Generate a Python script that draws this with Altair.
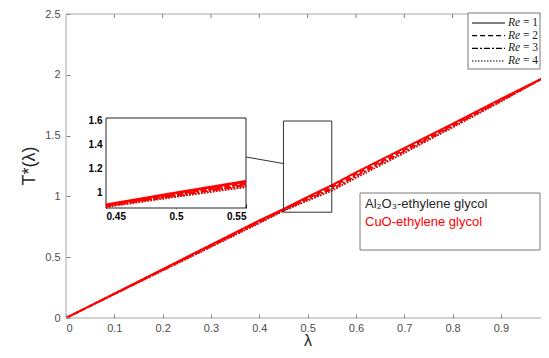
import altair as alt
import pandas as pd

# ---- data ----
lam = [0, 0.1, 0.2, 0.3, 0.4, 0.45, 0.5, 0.55, 0.6, 0.7, 0.8, 0.9, 1.0]
al_re1 = [0, 0.200, 0.400, 0.600, 0.800, 0.893, 0.993, 1.088, 1.195, 1.395, 1.595, 1.800, 2.000]
al_re2 = [0, 0.198, 0.396, 0.594, 0.792, 0.888, 0.983, 1.073, 1.180, 1.380, 1.585, 1.792, 2.000]
al_re3 = [0, 0.196, 0.392, 0.588, 0.785, 0.883, 0.973, 1.058, 1.165, 1.368, 1.575, 1.785, 2.000]
al_re4 = [0, 0.194, 0.388, 0.582, 0.778, 0.878, 0.963, 1.043, 1.150, 1.355, 1.565, 1.778, 2.000]
cu_re1 = [0, 0.201, 0.402, 0.603, 0.803, 0.897, 0.997, 1.093, 1.198, 1.398, 1.598, 1.802, 2.000]
cu_re2 = [0, 0.199, 0.398, 0.597, 0.795, 0.892, 0.987, 1.078, 1.183, 1.383, 1.588, 1.794, 2.000]
cu_re3 = [0, 0.197, 0.394, 0.591, 0.788, 0.887, 0.977, 1.063, 1.168, 1.371, 1.578, 1.787, 2.000]
cu_re4 = [0, 0.195, 0.390, 0.585, 0.781, 0.882, 0.967, 1.048, 1.153, 1.358, 1.568, 1.780, 2.000]

re_labels = ["Re = 1", "Re = 2", "Re = 3", "Re = 4"]
fluids = ["Al\u2082O\u2083-ethylene glycol", "CuO-ethylene glycol"]
x_ticks = [0, 0.1, 0.2, 0.3, 0.4, 0.5, 0.6, 0.7, 0.8, 0.9]
y_ticks = [0, 0.5, 1, 1.5, 2, 2.5]
inset_x_ticks = [0.45, 0.5, 0.55]
inset_y_ticks = [1, 1.2, 1.4, 1.6]
x_domain = [0, 0.983]          # right part of the axes is cut off in the reference
y_domain = [0, 2.5]
zoom_x = [0.45, 0.55]
zoom_y = [0.87, 1.62]
connector_y = [1.27]

rows = []
for fluid, series in [(fluids[0], [al_re1, al_re2, al_re3, al_re4]),
                      (fluids[1], [cu_re1, cu_re2, cu_re3, cu_re4])]:
    for re, vals in zip(re_labels, series):
        for l, t in zip(lam, vals):
            rows.append({"lam": l, "T": t, "Re": re, "fluid": fluid})
df = pd.DataFrame(rows)
df_al = df[df.fluid == fluids[0]]
df_cu = df[df.fluid == fluids[1]]
df_al_in = df_al[(df_al.lam >= 0.45) & (df_al.lam <= 0.55)]
df_cu_in = df_cu[(df_cu.lam >= 0.45) & (df_cu.lam <= 0.55)]
zoom_df = pd.DataFrame({"x0": [zoom_x[0]], "x1": [zoom_x[1]], "y0": [zoom_y[0]],
                        "y1": [zoom_y[1]], "yc": connector_y})
legend_df = pd.DataFrame({"Re": re_labels, "eq": [r[3:] for r in re_labels]})

W, H = 475, 304

# ---- scales / axes ----
dash_scale = alt.Scale(domain=re_labels, range=[[1, 0], [5, 3], [6, 2, 2, 2], [1.5, 1.5]])
color_scale = alt.Scale(domain=fluids, range=["#000000", "#ff0000"])

mx_scale = alt.Scale(domain=x_domain, nice=False, zero=False)
my_scale = alt.Scale(domain=y_domain, nice=False, zero=False)
mx_axis = alt.Axis(values=x_ticks, format="~g", title=None, offset=-4, tickSize=4,
                   labelPadding=4, domain=False, grid=False)
my_axis = alt.Axis(values=y_ticks, format="~g", title=None, offset=-4, tickSize=4,
                   labelPadding=6, domain=False, grid=False)

ix_scale = alt.Scale(domain=zoom_x, range=[40, 180], nice=False, zero=False)
iy_scale = alt.Scale(domain=zoom_y, range=[194, 104], nice=False, zero=False)
ix_axis = alt.Axis(values=inset_x_ticks, format="~g", title=None, orient="bottom",
                   offset=-114, tickSize=4, labelPadding=3, domain=False, grid=False,
                   labelFontWeight="bold", labelColor="black", labelFontSize=10,
                   tickColor="black")
iy_axis = alt.Axis(values=inset_y_ticks, format="~g", title=None, orient="left",
                   offset=-44, tickSize=4, labelPadding=4, domain=False, grid=False,
                   labelFontWeight="bold", labelColor="black", labelFontSize=10,
                   tickColor="black")


def lines(data, width, xs, ys, xa, ya):
    return alt.Chart(data).mark_line(strokeWidth=width, clip=True).encode(
        x=alt.X("lam:Q", scale=xs, axis=xa),
        y=alt.Y("T:Q", scale=ys, axis=ya),
        strokeDash=alt.StrokeDash("Re:N", scale=dash_scale, legend=None),
        color=alt.Color("fluid:N", scale=color_scale, legend=None),
    )


one = pd.DataFrame({"a": [0]})
frame_color = "#a6a6a6"

main_black = lines(df_al, 1, mx_scale, my_scale, mx_axis, my_axis)
main_red = lines(df_cu, 1.8, mx_scale, my_scale, mx_axis, my_axis)

frame_top = alt.Chart(one).mark_rule(color=frame_color).encode(
    x=alt.value(0), x2=alt.value(W), y=alt.value(0))
frame_bottom = alt.Chart(one).mark_rule(color=frame_color).encode(
    x=alt.value(0), x2=alt.value(W), y=alt.value(H))
frame_left = alt.Chart(one).mark_rule(color=frame_color).encode(
    x=alt.value(0), y=alt.value(0), y2=alt.value(H))

top_ticks = alt.Chart(pd.DataFrame({"t": x_ticks[1:]})).mark_rule(color="#808080").encode(
    x=alt.X("t:Q", scale=mx_scale, axis=mx_axis), y=alt.value(0), y2=alt.value(4))

zoom_rect = alt.Chart(zoom_df).mark_rect(fillOpacity=0, stroke="#333333", strokeWidth=1).encode(
    x=alt.X("x0:Q", scale=mx_scale, axis=mx_axis), x2="x1:Q",
    y=alt.Y("y0:Q", scale=my_scale, axis=my_axis), y2="y1:Q")

connector = alt.Chart(zoom_df).mark_rule(color="#333333", strokeWidth=1).encode(
    x=alt.X("x0:Q", scale=mx_scale, axis=mx_axis), y=alt.Y("yc:Q", scale=my_scale, axis=my_axis),
    x2=alt.value(180), y2=alt.value(143))

box = alt.Chart(one).mark_rect(fill="white", stroke="#7a7a7a", strokeWidth=1).encode(
    x=alt.value(294), x2=alt.value(474), y=alt.value(179), y2=alt.value(236))
txt1 = alt.Chart(one).mark_text(text=fluids[0], align="left", baseline="middle",
                                font="Liberation Sans", fontSize=13, color="#262626").encode(
    x=alt.value(299), y=alt.value(190))
txt2 = alt.Chart(one).mark_text(text=fluids[1], align="left", baseline="middle",
                                font="Liberation Sans", fontSize=13, color="#ff0000").encode(
    x=alt.value(299), y=alt.value(208))

ytitle = alt.Chart(one).mark_text(text="T*(\u03bb)", angle=270, baseline="middle", align="center",
                                  font="Liberation Sans", fontSize=18, color="#262626").encode(
    x=alt.value(-36), y=alt.value(152))
xtitle = alt.Chart(one).mark_text(text="\u03bb", baseline="alphabetic", align="center",
                                  font="Liberation Sans", fontSize=16, color="#262626").encode(
    x=alt.value(242), y=alt.value(332))

main = alt.layer(main_black, main_red, frame_top, frame_bottom, frame_left, top_ticks,
                 zoom_rect, connector, box, txt1, txt2, ytitle, xtitle)

inset_bg = alt.Chart(zoom_df).mark_rect(fill="white", stroke="#222222", strokeWidth=1).encode(
    x=alt.X("x0:Q", scale=ix_scale, axis=ix_axis), x2="x1:Q",
    y=alt.Y("y0:Q", scale=iy_scale, axis=iy_axis), y2="y1:Q")
inset_black = lines(df_al_in, 1.2, ix_scale, iy_scale, ix_axis, iy_axis)
inset_red = lines(df_cu_in, 2.6, ix_scale, iy_scale, ix_axis, iy_axis)
inset = alt.layer(inset_bg, inset_black, inset_red)

# ---- hand-drawn legend (Re) ----
leg_y = alt.Scale(domain=re_labels, range=[9, 47], type="point", padding=0)
leg_box = alt.Chart(one).mark_rect(fill="white", stroke="#7a7a7a", strokeWidth=1).encode(
    x=alt.value(402), x2=alt.value(474), y=alt.value(-1), y2=alt.value(55))
leg_lines = alt.Chart(legend_df).mark_rule(strokeWidth=1.2, color="black").encode(
    x=alt.value(406), x2=alt.value(439),
    y=alt.Y("Re:N", scale=leg_y, axis=None),
    strokeDash=alt.StrokeDash("Re:N", scale=dash_scale, legend=None))
leg_re = alt.Chart(legend_df).mark_text(text="Re", align="left", baseline="middle",
                                        font="Liberation Serif", fontStyle="italic",
                                        fontSize=11.5, color="#222222").encode(
    x=alt.value(442), y=alt.Y("Re:N", scale=leg_y, axis=None))
leg_eq = alt.Chart(legend_df).mark_text(align="left", baseline="middle",
                                        font="Liberation Serif", fontSize=11.5,
                                        color="#222222").encode(
    x=alt.value(457), y=alt.Y("Re:N", scale=leg_y, axis=None), text="eq:N")
leg = alt.layer(leg_box, leg_lines, leg_re, leg_eq)

chart = alt.layer(main, inset, leg).resolve_scale(x="independent", y="independent").properties(
    width=W, height=H,
    autosize=alt.AutoSizeParams(type="none"),
    padding={"left": 58, "top": 6, "right": 0, "bottom": 32},
).configure_view(stroke=None).configure_axis(
    labelFont="Liberation Sans", labelFontSize=11, labelColor="#4d4d4d", tickColor="#808080"
)

chart.save("out.html", embed_options={"renderer": "svg", "actions": False})
